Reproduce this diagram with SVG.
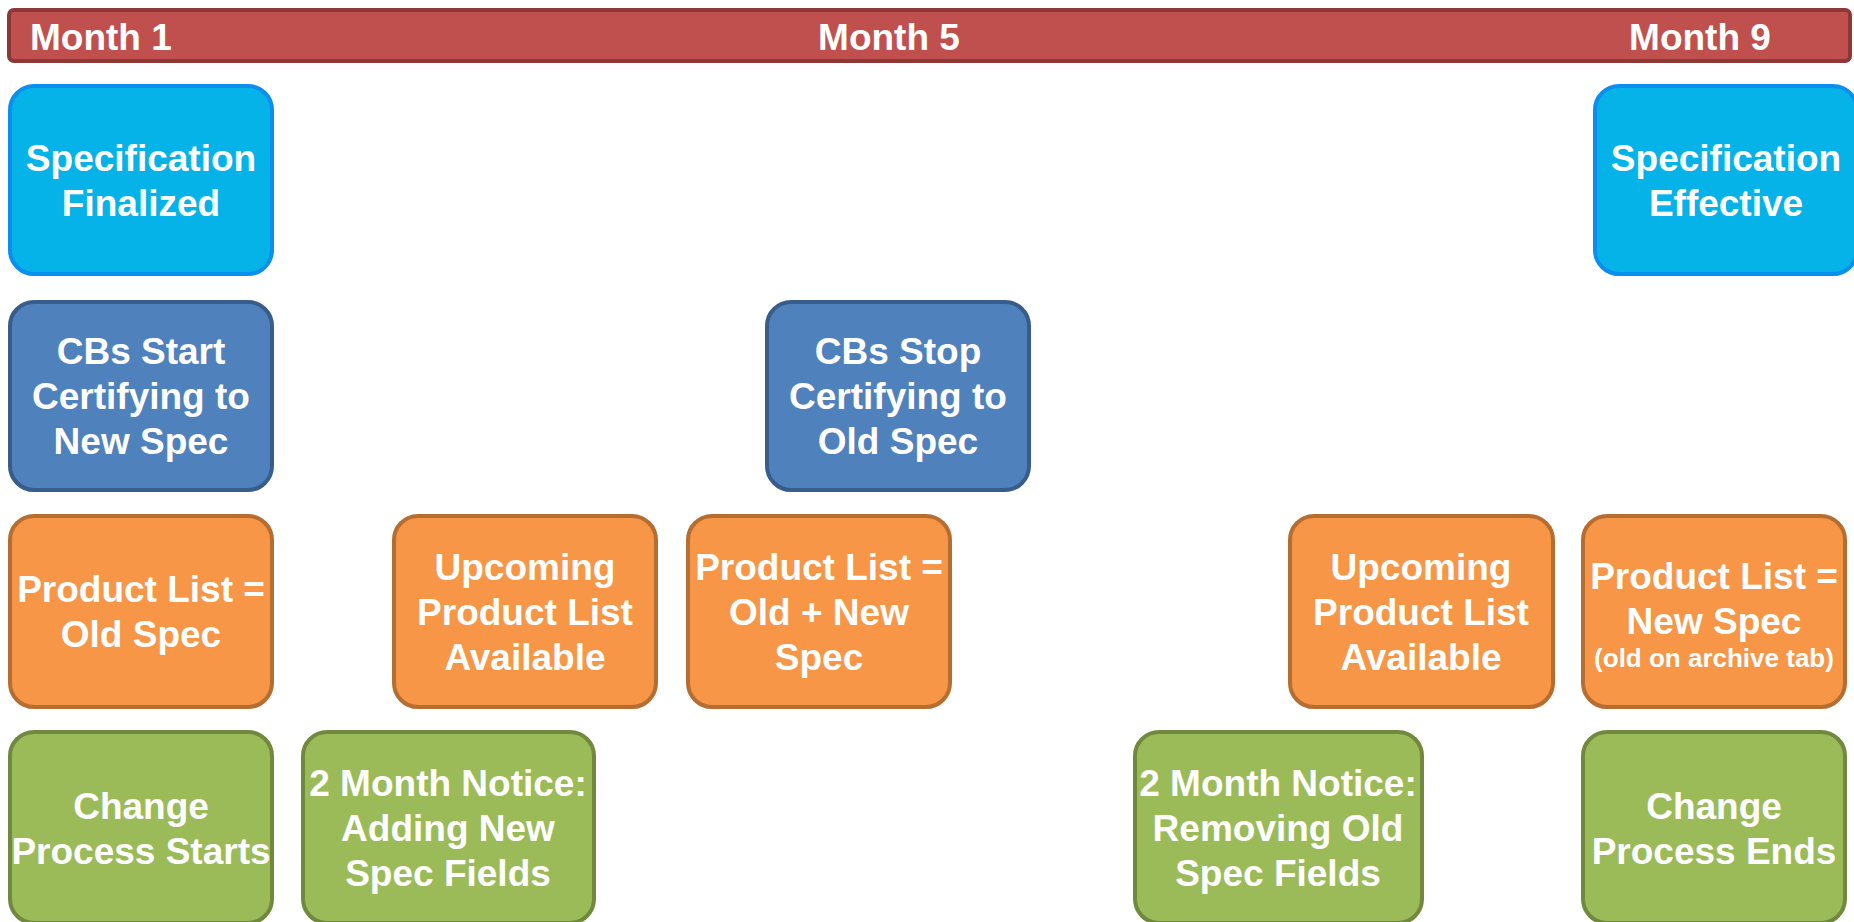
<svg xmlns="http://www.w3.org/2000/svg" width="1854" height="922" viewBox="0 0 1854 922">
<style>
text{font-family:"Liberation Sans",Arial,sans-serif;font-weight:bold;fill:#fff;font-size:37px;text-anchor:middle}
.box{stroke-width:4}
.cyan{fill:#05B3E9;stroke:#0B8FEF}
.blue{fill:#4F81BD;stroke:#385D8A}
.orange{fill:#F79646;stroke:#B66D31}
.green{fill:#9BBB59;stroke:#71893F}
.small{font-size:26px}
</style>
<rect width="1854" height="922" fill="#fff"/>
<g id="timeline">
<rect x="9" y="10" width="1841" height="51" rx="5" fill="#C0504D" stroke="#8C3836" stroke-width="4"/>
<text x="30" y="50" style="text-anchor:start">Month 1</text>
<text x="889" y="50">Month 5</text>
<text x="1700" y="50">Month 9</text>
</g>
<g id="spec-finalized">
<rect class="box cyan" x="10" y="86" width="262" height="188" rx="24"/>
<text x="141" y="171">Specification</text>
<text x="141" y="216">Finalized</text>
</g>
<g id="spec-effective">
<rect class="box cyan" x="1595" y="86" width="262" height="188" rx="24"/>
<text x="1726" y="171">Specification</text>
<text x="1726" y="216">Effective</text>
</g>
<g id="cbs-start">
<rect class="box blue" x="10" y="302" width="262" height="188" rx="24"/>
<text x="141" y="364">CBs Start</text>
<text x="141" y="409">Certifying to</text>
<text x="141" y="454">New Spec</text>
</g>
<g id="cbs-stop">
<rect class="box blue" x="767" y="302" width="262" height="188" rx="24"/>
<text x="898" y="364">CBs Stop</text>
<text x="898" y="409">Certifying to</text>
<text x="898" y="454">Old Spec</text>
</g>
<g id="pl-old">
<rect class="box orange" x="10" y="516" width="262" height="191" rx="24"/>
<text x="141" y="602">Product List =</text>
<text x="141" y="647">Old Spec</text>
</g>
<g id="upcoming-1">
<rect class="box orange" x="394" y="516" width="262" height="191" rx="24"/>
<text x="525" y="580">Upcoming</text>
<text x="525" y="625">Product List</text>
<text x="525" y="670">Available</text>
</g>
<g id="pl-old-new">
<rect class="box orange" x="688" y="516" width="262" height="191" rx="24"/>
<text x="819" y="580">Product List =</text>
<text x="819" y="625">Old + New</text>
<text x="819" y="670">Spec</text>
</g>
<g id="upcoming-2">
<rect class="box orange" x="1290" y="516" width="263" height="191" rx="24"/>
<text x="1421" y="580">Upcoming</text>
<text x="1421" y="625">Product List</text>
<text x="1421" y="670">Available</text>
</g>
<g id="pl-new">
<rect class="box orange" x="1583" y="516" width="262" height="191" rx="24"/>
<text x="1714" y="589">Product List =</text>
<text x="1714" y="634">New Spec</text>
<text class="small" x="1714" y="667">(old on archive tab)</text>
</g>
<g id="change-starts">
<rect class="box green" x="10" y="732" width="262" height="191" rx="24"/>
<text x="141" y="819">Change</text>
<text x="141" y="864">Process Starts</text>
</g>
<g id="notice-adding">
<rect class="box green" x="303" y="732" width="291" height="191" rx="24"/>
<text x="448" y="796">2 Month Notice:</text>
<text x="448" y="841">Adding New</text>
<text x="448" y="886">Spec Fields</text>
</g>
<g id="notice-removing">
<rect class="box green" x="1135" y="732" width="287" height="191" rx="24"/>
<text x="1278" y="796">2 Month Notice:</text>
<text x="1278" y="841">Removing Old</text>
<text x="1278" y="886">Spec Fields</text>
</g>
<g id="change-ends">
<rect class="box green" x="1583" y="732" width="262" height="191" rx="24"/>
<text x="1714" y="819">Change</text>
<text x="1714" y="864">Process Ends</text>
</g>
</svg>
